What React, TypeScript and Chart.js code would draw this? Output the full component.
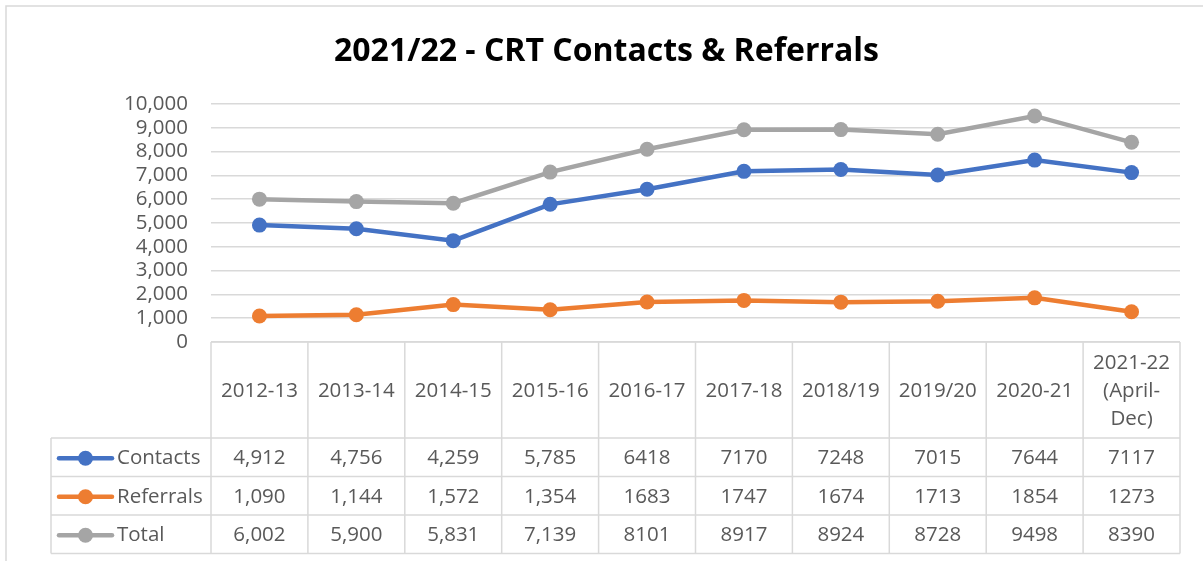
import React, { useEffect, useRef } from "react";
import { Chart, registerables } from "chart.js";

Chart.register(...registerables);

const chartTitle = "2021/22 - CRT Contacts & Referrals";
const categories: string[][] = [
  ["2012-13"],
  ["2013-14"],
  ["2014-15"],
  ["2015-16"],
  ["2016-17"],
  ["2017-18"],
  ["2018/19"],
  ["2019/20"],
  ["2020-21"],
  ["2021-22", "(April-", "Dec)"],
];
const contacts = [4912, 4756, 4259, 5785, 6418, 7170, 7248, 7015, 7644, 7117];
const referrals = [1090, 1144, 1572, 1354, 1683, 1747, 1674, 1713, 1854, 1273];
const totals = [6002, 5900, 5831, 7139, 8101, 8917, 8924, 8728, 9498, 8390];
const seriesNames = ["Contacts", "Referrals", "Total"];
const seriesColors = ["#4472C4", "#ED7D31", "#A5A5A5"];
const yMin = 0;
const yMax = 10000;
const yStep = 1000;
// the first columns of the source table show thousands separators, the later ones do not
const columnsWithSeparators = 4;

const FONT_FAMILY = "'Open Sans', sans-serif";
const TEXT_COLOR = "#595959";
const LINE_COLOR = "#D9D9D9";

const formatCell = (v: number, col: number) =>
  col < columnsWithSeparators ? v.toLocaleString("en-US") : String(v);

const frameAndTablePlugin = {
  id: "frameAndTable",
  beforeDraw(chart: any) {
    const ctx = chart.ctx as CanvasRenderingContext2D;
    ctx.save();
    ctx.fillStyle = "#FFFFFF";
    ctx.fillRect(0, 0, chart.width, chart.height);
    ctx.strokeStyle = LINE_COLOR;
    ctx.lineWidth = 1.5;
    ctx.strokeRect(6, 6, chart.width + 10, chart.height + 10);
    ctx.restore();
  },
  afterDraw(chart: any) {
    const ctx = chart.ctx as CanvasRenderingContext2D;
    const xs = chart.scales.x;
    const area = chart.chartArea;
    const top = area.bottom;
    const headerH = 96;
    const rowH = 38.5;
    const legendLeft = 51;
    const n = categories.length;
    const bounds: number[] = [area.left];
    for (let i = 1; i < n; i++) {
      bounds.push((xs.getPixelForValue(i - 1) + xs.getPixelForValue(i)) / 2);
    }
    bounds.push(area.right);
    const rowsTop = top + headerH;
    const bottom = rowsTop + rowH * seriesNames.length;

    ctx.save();
    // title
    ctx.fillStyle = "#000000";
    ctx.font = `bold 32px ${FONT_FAMILY}`;
    ctx.textAlign = "center";
    ctx.textBaseline = "alphabetic";
    ctx.fillText(chartTitle, chart.width / 2 + 5, 61);

    // grid lines of the table
    ctx.strokeStyle = LINE_COLOR;
    ctx.lineWidth = 1.5;
    ctx.beginPath();
    ctx.moveTo(area.left, top);
    ctx.lineTo(area.right, top);
    for (let r = 0; r <= seriesNames.length; r++) {
      const y = rowsTop + r * rowH;
      ctx.moveTo(legendLeft, y);
      ctx.lineTo(area.right, y);
    }
    ctx.moveTo(legendLeft, rowsTop);
    ctx.lineTo(legendLeft, bottom);
    bounds.forEach((x) => {
      ctx.moveTo(x, top);
      ctx.lineTo(x, bottom);
    });
    ctx.stroke();

    // header labels
    ctx.fillStyle = TEXT_COLOR;
    ctx.font = `20.5px ${FONT_FAMILY}`;
    ctx.textAlign = "center";
    ctx.textBaseline = "middle";
    const lineH = 28;
    const headerMid = top + headerH / 2 + 1;
    categories.forEach((lines, i) => {
      const x = xs.getPixelForValue(i);
      const start = headerMid - ((lines.length - 1) * lineH) / 2;
      lines.forEach((t, k) => ctx.fillText(t, x, start + k * lineH));
    });

    // rows
    const data = [contacts, referrals, totals];
    data.forEach((vals, r) => {
      const yMid = rowsTop + r * rowH + rowH / 2 + 1;
      // legend key
      ctx.strokeStyle = seriesColors[r];
      ctx.lineWidth = 4.5;
      ctx.lineCap = "round";
      ctx.beginPath();
      ctx.moveTo(59, yMid);
      ctx.lineTo(112, yMid);
      ctx.stroke();
      ctx.fillStyle = seriesColors[r];
      ctx.beginPath();
      ctx.arc(85.5, yMid, 7.5, 0, Math.PI * 2);
      ctx.fill();
      ctx.fillStyle = TEXT_COLOR;
      ctx.textAlign = "left";
      ctx.fillText(seriesNames[r], 117, yMid);
      ctx.textAlign = "center";
      vals.forEach((v, i) => {
        ctx.fillText(formatCell(v, i), xs.getPixelForValue(i), yMid);
      });
    });
    ctx.restore();
  },
};

export default function App() {
  const canvasRef = useRef<HTMLCanvasElement | null>(null);

  useEffect(() => {
    document.body.style.margin = "0";
    const canvas = canvasRef.current;
    if (!canvas) return;
    const seriesData = [contacts, referrals, totals];
    const chart = new Chart(canvas, {
      type: "line",
      data: {
        labels: categories.map((c) => c.join(" ")),
        datasets: seriesNames.map((name, i) => ({
          label: name,
          data: seriesData[i],
          borderColor: seriesColors[i],
          backgroundColor: seriesColors[i],
          borderWidth: 4.5,
          pointRadius: 7.5,
          pointBorderWidth: 0,
          pointBackgroundColor: seriesColors[i],
          tension: 0,
          fill: false,
        })),
      },
      options: {
        animation: false,
        responsive: true,
        maintainAspectRatio: false,
        devicePixelRatio: 1,
        layout: { padding: { left: 0, right: 23, top: 104, bottom: 219 } },
        plugins: {
          legend: { display: false },
          tooltip: { enabled: false },
          title: { display: false },
        },
        scales: {
          x: {
            type: "category",
            offset: true,
            display: false,
          },
          y: {
            min: yMin,
            max: yMax,
            afterFit: (scale: any) => {
              scale.width = 211;
            },
            border: { display: false },
            grid: { color: LINE_COLOR, lineWidth: 1.5, drawTicks: false },
            ticks: {
              stepSize: yStep,
              autoSkip: false,
              padding: 23,
              color: TEXT_COLOR,
              font: { family: FONT_FAMILY, size: 20.5, lineHeight: 1 },
              callback: (v: any) => Number(v).toLocaleString("en-US"),
            },
          },
        },
      },
      plugins: [frameAndTablePlugin],
    });
    return () => chart.destroy();
  }, []);

  return (
    <div style={{ width: 1203, height: 561, position: "relative" }}>
      <canvas ref={canvasRef} />
    </div>
  );
}
